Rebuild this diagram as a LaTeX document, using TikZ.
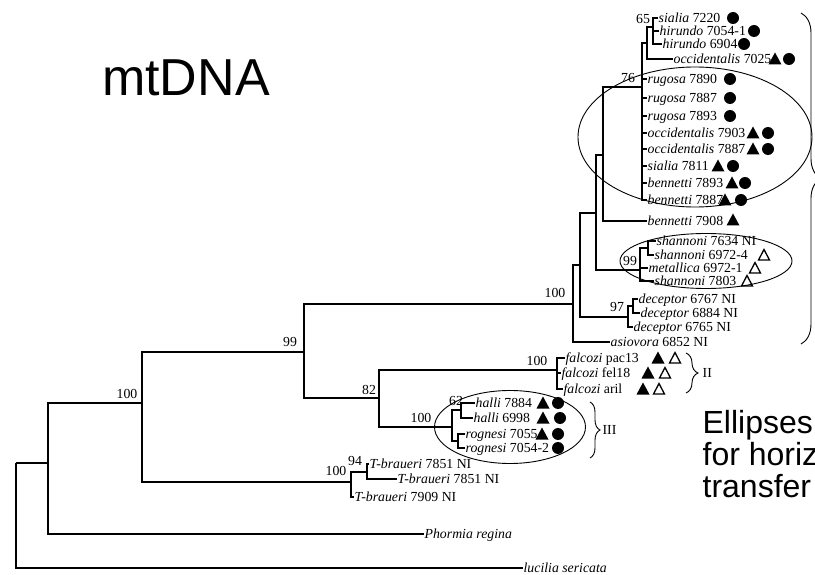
\documentclass[tikz,border=0pt]{standalone}
\usepackage{fontspec}
\setmainfont{Liberation Serif}
\newfontfamily\capfont{Liberation Sans}
\usetikzlibrary{decorations.pathreplacing}

\newcommand{\fdot}[2]{\fill (#1,#2) circle (6pt);}
\newcommand{\ftri}[2]{\fill[shift={(#1,#2)}] (-6.5,5.5) -- (6.5,5.5) -- (0,-6.5) -- cycle;}
\newcommand{\otri}[2]{\draw[line width=1.3pt, line join=miter, shift={(#1,#2)}] (-5.5,5) -- (5.5,5) -- (0,-5.5) -- cycle;}

\begin{document}
\begin{tikzpicture}[x=1pt, y=-1pt, line width=1.3pt,
        leaf/.style={anchor=west, inner sep=0pt, text height=10pt, text depth=1pt, font=\fontsize{13.8}{15}\selectfont},
        boot/.style={inner sep=0pt, font=\fontsize{13.8}{15}\selectfont},
        thin line/.style={line width=0.9pt},
        grp/.style={thin line, decorate, decoration={brace, amplitude=#1}}]
    \useasboundingbox (0,0) rectangle (815,575);

        % Leaves
        \node[leaf] (sia1) at (658,18) {\textit{sialia} 7220};
        \node[leaf] (hir1) at (659,31) {\textit{hirundo} 7054-1};
        \node[leaf] (hir2) at (662,44) {\textit{hirundo} 6904};
        \node[leaf] (occ1) at (673,59) {\textit{occidentalis} 7025};
        \node[leaf] (rug1) at (647,79) {\textit{rugosa} 7890};
        \node[leaf] (rug2) at (647,98) {\textit{rugosa} 7887};
        \node[leaf] (rug3) at (647,116) {\textit{rugosa} 7893};
        \node[leaf] (occ2) at (647,133) {\textit{occidentalis} 7903};
        \node[leaf] (occ3) at (647,149) {\textit{occidentalis} 7887};
        \node[leaf] (sia2) at (647,166) {\textit{sialia} 7811};
        \node[leaf] (ben1) at (647,183) {\textit{bennetti} 7893};
        \node[leaf] (ben2) at (647,200) {\textit{bennetti} 7887};
        \node[leaf] (ben3) at (647,221) {\textit{bennetti} 7908};
        \node[leaf] (sha1) at (656,241) {\textit{shannoni} 7634 NI};
        \node[leaf] (sha2) at (654,255) {\textit{shannoni} 6972-4};
        \node[leaf] (met1) at (648,268) {\textit{metallica} 6972-1};
        \node[leaf] (sha3) at (654,281) {\textit{shannoni} 7803};
        \node[leaf] (dec1) at (638,299) {\textit{deceptor} 6767 NI};
        \node[leaf] (dec2) at (640,313) {\textit{deceptor} 6884 NI};
        \node[leaf] (dec3) at (633,327) {\textit{deceptor} 6765 NI};
        \node[leaf] (asi1) at (610,342) {\textit{asiovora} 6852 NI};
        \node[leaf] (fal1) at (565,358) {\textit{falcozi} pac13};
        \node[leaf] (fal2) at (561,373) {\textit{falcozi} fel18};
        \node[leaf] (fal3) at (563,389) {\textit{falcozi} aril};
        \node[leaf] (hal1) at (475,403) {\textit{halli} 7884};
        \node[leaf] (hal2) at (473,418) {\textit{halli} 6998};
        \node[leaf] (rog1) at (465,434) {\textit{rognesi} 7055};
        \node[leaf] (rog2) at (465,448) {\textit{rognesi} 7054-2};
        \node[leaf] (bra1) at (369,464) {\textit{T-braueri} 7851 NI};
        \node[leaf] (bra2) at (397,479) {\textit{T-braueri} 7851 NI};
        \node[leaf] (bra3) at (354,497) {\textit{T-braueri} 7909 NI};
        \node[leaf] (pho) at (424,534) {\textit{Phormia regina}};
        \node[leaf] (luc) at (523,568) {\textit{lucilia sericata}};

        % Inner nodes
        \coordinate (root) at (16,463);
        \coordinate (n1) at (48,463);
        \coordinate (n2) at (142,403);
        \coordinate (n99) at (304,352);
        \coordinate (nT) at (351,482);
        \coordinate (nT94) at (367,472);
        \coordinate (n82) at (379,398);
        \coordinate (nF) at (557,370);
        \coordinate (nH) at (452,427);
        \coordinate (nHal) at (461,410);
        \coordinate (nRog) at (458,441);
        \coordinate (nD) at (573,304);
        \coordinate (nC) at (580,265);
        \coordinate (nDec) at (628,317);
        \coordinate (nDec2) at (633,306);
        \coordinate (nB) at (596,213);
        \coordinate (nS) at (640,270);
        \coordinate (nS2) at (648,248);
        \coordinate (nA) at (603,155);
        \coordinate (n76) at (642,87);
        \coordinate (nTop) at (647,43);
        \coordinate (n65) at (653,27);

        % Branches: outgroups and lower part
        \draw (root) -- (n1) (root) |- (luc.west);
        \draw (n1) |- (n2) (n1) |- (pho.west);
        \draw (n2) |- (n99) (n2) |- (nT);
        \draw (nT) |- (nT94) (nT) |- (bra3.west);
        \draw (nT94) |- (bra1.west) (nT94) |- (bra2.west);
        \draw (n99) |- (nD) (n99) |- (n82);
        \draw (n82) |- (nF) (n82) |- (nH);
        \foreach \c in {fal1,fal2,fal3} \draw (nF) |- (\c.west);
        \draw (nH) |- (nHal) (nH) |- (nRog);
        \draw (nHal) |- (hal1.west) (nHal) |- (hal2.west);
        \draw (nRog) |- (rog1.west) (nRog) |- (rog2.west);

        % Branches: upper part
        \draw (nD) |- (nC) (nD) |- (asi1.west);
        \draw (nC) |- (nB) (nC) |- (nDec);
        \draw (nDec) |- (nDec2) (nDec) |- (dec3.west);
        \draw (nDec2) |- (dec1.west) (nDec2) |- (dec2.west);
        \draw (nB) |- (nA) (nB) |- (nS);
        \draw (nS) |- (nS2) (nS) |- (met1.west) (nS) |- (sha3.west);
        \draw (nS2) |- (sha1.west) (nS2) |- (sha2.west);
        \draw (nA) |- (n76) (nA) |- (ben3.west);
        \draw (n76) |- (nTop);
        \foreach \c in {rug1,rug2,rug3,occ2,occ3,sia2,ben1,ben2} \draw (n76) |- (\c.west);
        \draw (nTop) |- (n65) (nTop) |- (occ1.west);
        \foreach \c in {sia1,hir1,hir2} \draw (n65) |- (\c.west);

        % Support values
        \node[boot] (b65) at (643,19) {65};
        \node[boot] (b76) at (628,78) {76};
        \node[boot] (b99s) at (630,261) {99};
        \node[boot] (b97) at (617,307) {97};
        \node[boot] (b100d) at (555,293) {100};
        \node[boot] (b99) at (290,342) {99};
        \node[boot] (b82) at (369,390) {82};
        \node[boot] (b100f) at (537,361) {100};
        \node[boot] (b62) at (456,401) {62};
        \node[boot] (b100h) at (421,418) {100};
        \node[boot] (b100) at (127,394) {100};
        \node[boot] (b100t) at (336,471) {100};
        \node[boot] (b94) at (355,461) {94};

        % Ellipses and braces
        \draw[thin line] (695,137) ellipse [x radius=117pt, y radius=70pt];
        \draw[thin line] (706,261) ellipse [x radius=86pt, y radius=27.5pt];
        \draw[thin line] (510,427) ellipse [x radius=75.5pt, y radius=36.5pt];
        \draw[grp=20pt] (801,13) -- (801,344);
        \draw[grp=12pt] (686,353) -- (686,393);
        \draw[grp=10pt] (590,402) -- (590,458);
        \node[leaf] (cII) at (702,373) {II};
        \node[leaf] (cIII) at (602,430) {III};

        % Markers
        \fdot{733}{18}
        \fdot{754}{31}
        \fdot{744}{44}
        \ftri{775}{59} \fdot{789}{59}
        \fdot{730}{79} \fdot{730}{98} \fdot{730}{116}
        \ftri{753}{133} \fdot{768}{133}
        \ftri{753}{149} \fdot{768}{149}
        \ftri{718}{166} \fdot{733}{166}
        \ftri{732}{183} \fdot{745}{183}
        \ftri{725}{200} \fdot{741}{200}
        \ftri{733}{220}
        \otri{764}{255} \otri{755}{268} \otri{747}{281}
        \ftri{658}{358} \otri{675}{358}
        \ftri{648}{373} \otri{665}{373}
        \ftri{643}{389} \otri{659}{389}
        \ftri{543}{403} \fdot{558}{403}
        \ftri{543}{418} \fdot{560}{418}
        \ftri{542}{434} \fdot{558}{434}
        \fdot{558}{448}

        % Captions
        \node[inner sep=0pt, font=\capfont\fontsize{52}{52}\selectfont] (title) at (186,78) {mtDNA};
        \node[anchor=base west, inner sep=0pt, font=\capfont\fontsize{32}{32}\selectfont] (note1) at (702,433) {Ellipses};
        \node[anchor=base west, inner sep=0pt, font=\capfont\fontsize{32}{32}\selectfont] (note2) at (702,465) {for horiz};
        \node[anchor=base west, inner sep=0pt, font=\capfont\fontsize{32}{32}\selectfont] (note3) at (702,497) {transfer};

    \end{tikzpicture}
\end{document}
